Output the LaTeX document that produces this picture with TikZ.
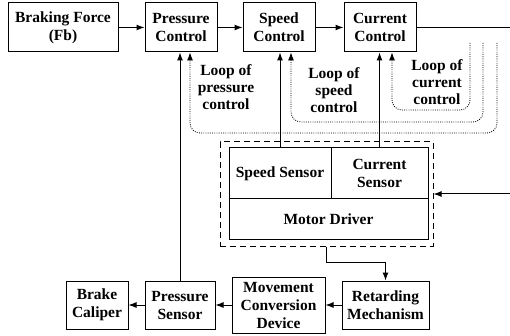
\documentclass[tikz,border=0pt]{standalone}
\usepackage{fontspec}
\setmainfont{Liberation Serif}
\usetikzlibrary{arrows.meta,positioning,calc,fit}
\tikzset{
  blockbox/.style={draw, line width=1pt, align=center, inner sep=1pt,
    font=\bfseries\fontsize{15.5}{18}\selectfont},
  unitbox/.style={draw, line width=1pt, dash pattern=on 6pt off 4pt, inner sep=0pt},
  looplabel/.style={align=center, font=\bfseries\fontsize{15.5}{17}\selectfont},
  arr/.style={-{Latex[length=8pt,width=6pt]}, line width=1pt},
  looparr/.style={-{Latex[length=8pt,width=6pt]}, line width=0.8pt,
    dash pattern=on 0.9pt off 1.3pt, rounded corners=10pt},
}

\begin{document}
\begin{tikzpicture}[x=1pt, y=-1pt]
  \useasboundingbox (0,0) rectangle (510,336);

  % Top row
  \node[blockbox, minimum width=110pt, minimum height=49pt] (force) at (63,27.5)
    {Braking Force\\(Fb)};
  \node[blockbox, minimum width=72pt, minimum height=49pt] (pctrl) at (181,27.5)
    {Pressure\\Control};
  \node[blockbox, minimum width=72pt, minimum height=49pt] (sctrl) at (279,27.5)
    {Speed\\Control};
  \node[blockbox, minimum width=72pt, minimum height=49pt] (cctrl) at (380,27.5)
    {Current\\Control};

  \draw[arr] (force) -- (pctrl);
  \draw[arr] (pctrl) -- (sctrl);
  \draw[arr] (sctrl) -- (cctrl);
  \coordinate (outR) at (510,27.5);
  \draw[line width=1pt] (cctrl) -- (outR);

  % Motor unit
  \node[blockbox, minimum width=102pt, minimum height=51pt] (speedsens) at (280,173.5)
    {Speed Sensor};
  \node[blockbox, minimum width=97pt, minimum height=51pt] (cursens) at (379.5,173.5)
    {Current\\Sensor};
  \node[blockbox, minimum width=199pt, minimum height=40pt] (driver) at (328.5,219)
    {Motor Driver};
  \coordinate (ua) at (220,142);
  \coordinate (ub) at (433,246);
  \node[unitbox, fit=(ua)(ub)] (unit) {};

  \coordinate (inR) at (510,194);
  \draw[arr] (inR) -- (inR -| unit.east);

  % Bottom row
  \node[blockbox, minimum width=62pt, minimum height=48pt] (brake) at (97,305)
    {Brake\\Caliper};
  \node[blockbox, minimum width=70pt, minimum height=48pt] (psens) at (180,305)
    {Pressure\\Sensor};
  \node[blockbox, minimum width=93pt, minimum height=56pt] (move) at (278.5,305)
    {Movement\\Conversion\\Device};
  \node[blockbox, minimum width=87pt, minimum height=48pt] (retard) at (385.5,305)
    {Retarding\\Mechanism};

  \draw[arr] (unit.south) -- ++(0,16) -| (retard.north);
  \draw[arr] (retard) -- (move);
  \draw[arr] (move) -- (psens);
  \draw[arr] (psens) -- (brake);

  % Feedback
  \draw[arr] (psens.north) -- (psens.north |- pctrl.south);
  \draw[arr] (speedsens.north) -- (speedsens.north |- sctrl.south);
  \draw[arr] (cursens.north) -- (cursens.north |- cctrl.south);

  % Loops
  \coordinate (c1) at (470,43);
  \coordinate (c2) at (483,43);
  \coordinate (c3) at (497,43);
  \draw[looparr] (c1) -- ++(0,67) -| ([xshift=12pt]cctrl.south);
  \draw[looparr] (c2) -- ++(0,79) -| ([xshift=12pt]sctrl.south);
  \draw[looparr] (c3) -- ++(0,90) -| ([xshift=9pt]pctrl.south);

  \node[looplabel] (lbp) at (226,87) {Loop of\\pressure\\control};
  \node[looplabel] (lbs) at (334,90) {Loop of\\speed\\control};
  \node[looplabel] (lbc) at (437,82) {Loop of\\current\\control};
\end{tikzpicture}
\end{document}
